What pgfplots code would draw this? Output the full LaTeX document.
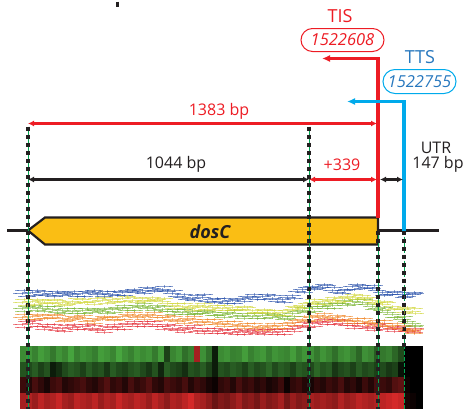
\documentclass[border=0pt]{standalone}
\usepackage{pgfplots}
\pgfplotsset{compat=1.18}
\usetikzlibrary{arrows.meta}
\usepackage{fontspec}
\setmainfont{Open Sans}
\definecolor{tisred}{RGB}{237,28,36}
\definecolor{ttsblue}{RGB}{0,170,235}
\definecolor{ttstext}{RGB}{40,120,190}
\definecolor{ink}{RGB}{35,31,32}
\definecolor{gene}{RGB}{250,190,20}
\definecolor{gline}{RGB}{0,166,81}
\definecolor{sB}{RGB}{40,80,170}
\definecolor{sY}{RGB}{210,215,60}
\definecolor{sG}{RGB}{120,180,50}
\definecolor{sO}{RGB}{240,135,40}
\definecolor{sR}{RGB}{228,50,60}
\pgfplotsset{ebar/.style={only marks, mark=|, mark size=1.6, line width=1.0, opacity=0.55,
  error bars/.cd, x dir=both, x fixed=7, error bar style={line width=1.0}, error mark options={mark size=1.8, line width=0.8}, /pgfplots/.cd}}
\begin{document}
\begin{tikzpicture}
\begin{axis}[width=467pt, height=407pt, scale only axis, xmin=0, xmax=467, ymin=0, ymax=407,
  y dir=reverse, axis lines=none, clip=false,
  colormap={rg}{rgb255=(235,45,45) rgb255=(0,0,0) rgb255=(80,185,70)},
  point meta min=-1, point meta max=1]
\path (axis cs:0,0) rectangle (axis cs:467,407);
% heatmap
\addplot[matrix plot*, mesh/cols=67, point meta=explicit] coordinates {
(23,352.75)[0.75] (29,352.75)[0.80] (35,352.75)[0.70] (41,352.75)[0.85] (47,352.75)[0.78] (53,352.75)[0.65] (59,352.75)[0.80] (65,352.75)[0.72] (71,352.75)[0.88] (77,352.75)[0.70]
(83,352.75)[0.80] (89,352.75)[0.75] (95,352.75)[0.68] (101,352.75)[0.85] (107,352.75)[0.80] (113,352.75)[0.72] (119,352.75)[0.90] (125,352.75)[0.78] (131,352.75)[0.70] (137,352.75)[0.82]
(143,352.75)[0.75] (149,352.75)[0.80] (155,352.75)[0.66] (161,352.75)[0.85] (167,352.75)[0.35] (173,352.75)[0.72] (179,352.75)[0.80] (185,352.75)[0.60] (191,352.75)[0.70] (197,352.75)[-0.70]
(203,352.75)[0.78] (209,352.75)[0.60] (215,352.75)[0.15] (221,352.75)[0.75] (227,352.75)[0.80] (233,352.75)[0.70] (239,352.75)[0.72] (245,352.75)[0.85] (251,352.75)[0.70] (257,352.75)[0.78]
(263,352.75)[0.82] (269,352.75)[0.68] (275,352.75)[0.80] (281,352.75)[0.75] (287,352.75)[0.72] (293,352.75)[0.85] (299,352.75)[0.70] (305,352.75)[0.80] (311,352.75)[0.78] (317,352.75)[0.65]
(323,352.75)[0.80] (329,352.75)[0.72] (335,352.75)[0.60] (341,352.75)[0.75] (347,352.75)[0.80] (353,352.75)[0.70] (359,352.75)[0.55] (365,352.75)[0.78] (371,352.75)[0.72] (377,352.75)[0.50]
(383,352.75)[0.65] (389,352.75)[0.70] (395,352.75)[0.55] (401,352.75)[0.40] (407,352.75)[0] (413,352.75)[0] (419,352.75)[0]
(23,368.25)[0.45] (29,368.25)[0.40] (35,368.25)[0.50] (41,368.25)[0.35] (47,368.25)[0.45] (53,368.25)[0.15] (59,368.25)[0.25] (65,368.25)[0.40] (71,368.25)[0.50] (77,368.25)[0.45]
(83,368.25)[0.35] (89,368.25)[0.50] (95,368.25)[0.40] (101,368.25)[0.45] (107,368.25)[0.30] (113,368.25)[0.50] (119,368.25)[0.40] (125,368.25)[0.35] (131,368.25)[0.45] (137,368.25)[0.50]
(143,368.25)[0.40] (149,368.25)[0.30] (155,368.25)[0.45] (161,368.25)[0.20] (167,368.25)[0.50] (173,368.25)[0.40] (179,368.25)[0.35] (185,368.25)[0.25] (191,368.25)[0.45] (197,368.25)[0.40]
(203,368.25)[0.50] (209,368.25)[0.35] (215,368.25)[0.15] (221,368.25)[0.45] (227,368.25)[0.40] (233,368.25)[0.50] (239,368.25)[0.45] (245,368.25)[0.35] (251,368.25)[0.50] (257,368.25)[0.40]
(263,368.25)[0.45] (269,368.25)[0.55] (275,368.25)[0.40] (281,368.25)[0.50] (287,368.25)[0.45] (293,368.25)[0.35] (299,368.25)[0.50] (305,368.25)[0.45] (311,368.25)[0.40] (317,368.25)[0.55]
(323,368.25)[0.45] (329,368.25)[0.50] (335,368.25)[0.30] (341,368.25)[0.40] (347,368.25)[0.45] (353,368.25)[0.35] (359,368.25)[0.50] (365,368.25)[0.40] (371,368.25)[0.45] (377,368.25)[0.35]
(383,368.25)[0.40] (389,368.25)[0.30] (395,368.25)[0.35] (401,368.25)[0.10] (407,368.25)[0] (413,368.25)[0] (419,368.25)[0]
(23,383.75)[-0.25] (29,383.75)[-0.15] (35,383.75)[-0.30] (41,383.75)[-0.20] (47,383.75)[-0.10] (53,383.75)[-0.25] (59,383.75)[-0.30] (65,383.75)[-0.15] (71,383.75)[-0.20] (77,383.75)[-0.25]
(83,383.75)[-0.30] (89,383.75)[-0.20] (95,383.75)[-0.15] (101,383.75)[-0.25] (107,383.75)[-0.35] (113,383.75)[-0.20] (119,383.75)[-0.25] (125,383.75)[-0.15] (131,383.75)[-0.30] (137,383.75)[-0.20]
(143,383.75)[-0.25] (149,383.75)[-0.35] (155,383.75)[-0.20] (161,383.75)[-0.15] (167,383.75)[-0.30] (173,383.75)[-0.25] (179,383.75)[-0.20] (185,383.75)[-0.30] (191,383.75)[-0.15] (197,383.75)[-0.25]
(203,383.75)[-0.20] (209,383.75)[-0.10] (215,383.75)[-0.05] (221,383.75)[-0.20] (227,383.75)[-0.25] (233,383.75)[-0.15] (239,383.75)[-0.30] (245,383.75)[-0.20] (251,383.75)[-0.25] (257,383.75)[-0.15]
(263,383.75)[-0.20] (269,383.75)[-0.10] (275,383.75)[-0.15] (281,383.75)[-0.25] (287,383.75)[-0.05] (293,383.75)[-0.20] (299,383.75)[-0.25] (305,383.75)[-0.15] (311,383.75)[-0.10] (317,383.75)[-0.20]
(323,383.75)[-0.15] (329,383.75)[-0.25] (335,383.75)[-0.20] (341,383.75)[-0.30] (347,383.75)[-0.15] (353,383.75)[-0.20] (359,383.75)[-0.10] (365,383.75)[-0.25] (371,383.75)[-0.15] (377,383.75)[-0.30]
(383,383.75)[-0.25] (389,383.75)[-0.20] (395,383.75)[-0.35] (401,383.75)[-0.40] (407,383.75)[-0.05] (413,383.75)[0] (419,383.75)[0]
(23,399.25)[-0.70] (29,399.25)[-0.75] (35,399.25)[-0.65] (41,399.25)[-0.80] (47,399.25)[-0.70] (53,399.25)[-0.75] (59,399.25)[-0.85] (65,399.25)[-0.70] (71,399.25)[-0.65] (77,399.25)[-0.80]
(83,399.25)[-0.75] (89,399.25)[-0.70] (95,399.25)[-0.80] (101,399.25)[-0.65] (107,399.25)[-0.75] (113,399.25)[-0.70] (119,399.25)[-0.85] (125,399.25)[-0.75] (131,399.25)[-0.70] (137,399.25)[-0.80]
(143,399.25)[-0.75] (149,399.25)[-0.65] (155,399.25)[-0.80] (161,399.25)[-0.70] (167,399.25)[-0.60] (173,399.25)[-0.75] (179,399.25)[-0.70] (185,399.25)[-0.80] (191,399.25)[-0.90] (197,399.25)[-0.75]
(203,399.25)[-0.70] (209,399.25)[-0.60] (215,399.25)[-0.45] (221,399.25)[-0.55] (227,399.25)[-0.50] (233,399.25)[-0.60] (239,399.25)[-0.70] (245,399.25)[-0.55] (251,399.25)[-0.60] (257,399.25)[-0.50]
(263,399.25)[-0.65] (269,399.25)[-0.55] (275,399.25)[-0.60] (281,399.25)[-0.70] (287,399.25)[-0.50] (293,399.25)[-0.65] (299,399.25)[-0.55] (305,399.25)[-0.60] (311,399.25)[-0.70] (317,399.25)[-0.65]
(323,399.25)[-0.70] (329,399.25)[-0.65] (335,399.25)[-0.60] (341,399.25)[-0.75] (347,399.25)[-0.65] (353,399.25)[-0.70] (359,399.25)[-0.80] (365,399.25)[-0.75] (371,399.25)[-0.70] (377,399.25)[-0.75]
(383,399.25)[-0.80] (389,399.25)[-0.85] (395,399.25)[-0.90] (401,399.25)[-0.85] (407,399.25)[-0.10] (413,399.25)[-0.05] (419,399.25)[0]
};
% profile series
\addplot[color=sR, ebar] coordinates {(22,323) (32,322) (42,325) (52,326) (62,327) (72,326) (82,325) (92,327) (102,328) (112,326) (122,325) (132,323) (142,322) (152,323) (162,325) (172,327) (182,328) (192,327) (202,329) (212,330) (222,329) (232,331) (242,330) (252,331) (262,330) (272,331) (282,330) (292,327) (302,324) (312,322) (322,321) (332,320) (342,322) (352,324) (362,325) (372,326) (382,325) (392,327) (402,328) (412,329)};
\addplot[color=sR, ebar] coordinates {(27,320) (37,325) (47,323) (57,329) (67,324) (77,328) (87,323) (97,329) (107,325) (117,328) (127,322) (137,325) (147,320) (157,325) (167,323) (177,329) (187,326) (197,330) (207,327) (217,332) (227,328) (237,333) (247,329) (257,332) (267,328) (277,333) (287,328) (297,325) (307,326) (317,320) (327,323) (337,318) (347,324) (357,322) (367,327) (377,323) (387,328) (397,326) (407,330) (415,327)};
\addplot[color=sR, ebar] coordinates {(24,326) (34,319) (44,328) (54,323) (64,330) (74,323) (84,328) (94,324) (104,331) (114,323) (124,328) (134,320) (144,325) (154,320) (164,328) (174,324) (184,331) (194,324) (204,332) (214,327) (224,332) (234,328) (244,333) (254,328) (264,333) (274,328) (284,333) (294,330) (304,321) (314,325) (324,318) (334,323) (344,319) (354,327) (364,322) (374,329) (384,322) (394,330) (404,325) (414,331)};
\addplot[color=sO, ebar] coordinates {(22,316) (32,315) (42,314) (52,316) (62,317) (72,318) (82,317) (92,319) (102,318) (112,316) (122,315) (132,314) (142,315) (152,314) (162,316) (172,318) (182,319) (192,318) (202,320) (212,321) (222,322) (232,323) (242,324) (252,325) (262,326) (272,325) (282,324) (292,321) (302,318) (312,316) (322,315) (332,316) (342,318) (352,319) (362,320) (372,321) (382,322) (392,324) (402,327) (412,330)};
\addplot[color=sO, ebar] coordinates {(27,318) (37,313) (47,317) (57,314) (67,319) (77,316) (87,320) (97,317) (107,316) (117,318) (127,313) (137,316) (147,313) (157,316) (167,314) (177,320) (187,317) (197,321) (207,318) (217,323) (227,320) (237,325) (247,322) (257,327) (267,324) (277,327) (287,322) (297,319) (307,320) (317,314) (327,317) (337,314) (347,320) (357,317) (367,322) (377,319) (387,325) (397,322) (407,329) (415,328)};
\addplot[color=sO, ebar] coordinates {(24,313) (34,318) (44,317) (54,313) (64,320) (74,315) (84,314) (94,322) (104,315) (114,319) (124,318) (134,311) (144,318) (154,311) (164,319) (174,315) (184,322) (194,315) (204,323) (214,318) (224,325) (234,320) (244,327) (254,322) (264,329) (274,322) (284,327) (294,324) (304,315) (314,319) (324,312) (334,319) (344,315) (354,322) (364,317) (374,324) (384,319) (394,327) (404,324) (414,332)};
\addplot[color=sG, ebar] coordinates {(22,307) (32,306) (42,307) (52,308) (62,309) (72,310) (82,309) (92,311) (102,310) (112,308) (122,307) (132,306) (142,305) (152,306) (162,308) (172,310) (182,311) (192,310) (202,312) (212,311) (222,313) (232,312) (242,314) (252,315) (262,314) (272,316) (282,315) (292,312) (302,309) (312,307) (322,305) (332,304) (342,302) (352,300) (362,301) (372,305) (382,309) (392,313) (402,318) (412,322)};
\addplot[color=sG, ebar] coordinates {(27,305) (37,309) (47,305) (57,311) (67,307) (77,312) (87,307) (97,309) (107,312) (117,306) (127,309) (137,304) (147,307) (157,304) (167,310) (177,308) (187,313) (197,312) (207,310) (217,314) (227,311) (237,315) (247,312) (257,317) (267,312) (277,314) (287,317) (297,310) (307,311) (317,305) (327,307) (337,302) (347,304) (357,298) (367,303) (377,307) (387,311) (397,316) (407,320) (415,324)};
\addplot[color=sG, ebar] coordinates {(24,310) (34,304) (44,310) (54,305) (64,312) (74,307) (84,312) (94,308) (104,307) (114,311) (124,304) (134,309) (144,302) (154,309) (164,305) (174,313) (184,308) (194,313) (204,309) (214,314) (224,316) (234,309) (244,317) (254,312) (264,317) (274,313) (284,318) (294,315) (304,306) (314,310) (324,302) (334,307) (344,299) (354,303) (364,298) (374,308) (384,306) (394,316) (404,315) (414,325)};
\addplot[color=sY, ebar] coordinates {(22,301) (32,300) (42,299) (52,302) (62,301) (72,300) (82,298) (92,300) (102,299) (112,298) (122,297) (132,299) (142,297) (152,296) (162,300) (172,304) (182,305) (192,306) (202,305) (212,306) (222,307) (232,306) (242,308) (252,309) (262,311) (272,312) (282,311) (292,308) (302,304) (312,301) (322,300) (332,299) (342,297) (352,296) (362,294) (372,299) (382,303) (392,305) (402,308) (412,310)};
\addplot[color=sY, ebar] coordinates {(27,304) (37,298) (47,302) (57,299) (67,303) (77,297) (87,301) (97,297) (107,302) (117,300) (127,295) (137,301) (147,299) (157,298) (167,302) (177,302) (187,307) (197,304) (207,308) (217,304) (227,309) (237,308) (247,306) (257,311) (267,309) (277,314) (287,309) (297,306) (307,302) (317,303) (327,298) (337,301) (347,295) (357,298) (367,296) (377,301) (387,301) (397,307) (407,306) (415,312)};
\addplot[color=sY, ebar] coordinates {(24,298) (34,303) (44,301) (54,298) (64,304) (74,302) (84,301) (94,303) (104,296) (114,301) (124,300) (134,296) (144,300) (154,299) (164,297) (174,307) (184,302) (194,309) (204,302) (214,309) (224,304) (234,309) (244,305) (254,312) (264,308) (274,309) (284,314) (294,305) (304,307) (314,298) (324,303) (334,296) (344,300) (354,293) (364,297) (374,302) (384,300) (394,308) (404,311) (414,307)};
\addplot[color=sB, ebar] coordinates {(22,292) (32,291) (42,293) (52,292) (62,294) (72,293) (82,292) (92,291) (102,292) (112,293) (122,291) (132,290) (142,289) (152,287) (162,288) (172,292) (182,296) (192,297) (202,296) (212,298) (222,300) (232,299) (242,297) (252,296) (262,295) (272,297) (282,298) (292,294) (302,288) (312,285) (322,286) (332,289) (342,292) (352,285) (362,284) (372,287) (382,291) (392,293) (402,293) (412,293)};
\addplot[color=sB, ebar] coordinates {(27,295) (37,289) (47,294) (57,290) (67,292) (77,295) (87,290) (97,293) (107,290) (117,294) (127,289) (137,291) (147,286) (157,289) (167,290) (177,295) (187,298) (197,294) (207,300) (217,297) (227,302) (237,298) (247,295) (257,298) (267,293) (277,300) (287,296) (297,290) (307,286) (317,287) (327,284) (337,291) (347,288) (357,283) (367,286) (377,289) (387,293) (397,291) (407,295) (415,292)};
\addplot[color=sB, ebar] coordinates {(24,289) (34,294) (44,290) (54,295) (64,291) (74,290) (84,295) (94,289) (104,295) (114,290) (124,294) (134,288) (144,292) (154,290) (164,285) (174,289) (184,293) (194,299) (204,293) (214,301) (224,297) (234,302) (244,300) (254,293) (264,298) (274,294) (284,301) (294,297) (304,291) (314,288) (324,283) (334,286) (344,289) (354,288) (364,287) (374,284) (384,294) (394,290) (404,296) (414,291)};
% genome line and gene
\addplot[ink, line width=2.2] coordinates {(7,229) (28,229)};
\addplot[ink, line width=2.2] coordinates {(378,229) (439,229)};
\addplot[fill=gene, draw=ink, line width=2.2] coordinates {(28,229) (45,216) (378,216) (378,243) (45,243)} -- cycle;
% dashed guides: thin green under bold black dashes
\addplot[gline, line width=0.8] coordinates {(28,125) (28,407)};
\addplot[gline, line width=0.8] coordinates {(309,125) (309,407)};
\addplot[gline, line width=0.8] coordinates {(378,229) (378,407)};
\addplot[gline, line width=0.8, dash pattern=on 4pt off 2pt] coordinates {(404,229) (404,407)};
\addplot[ink, line width=3.2, dash pattern=on 4.5pt off 3.5pt] coordinates {(28,125) (28,407)};
\addplot[ink, line width=3.2, dash pattern=on 4.5pt off 3.5pt] coordinates {(309,125) (309,407)};
\addplot[ink, line width=3.2, dash pattern=on 4.5pt off 3.5pt] coordinates {(378,229) (378,407)};
\addplot[ink, line width=3.2, dash pattern=on 4.5pt off 3.5pt] coordinates {(404,229) (404,345)};
% TIS / TTS
\addplot[tisred, line width=3.6, -{Latex[length=8pt,width=7pt]}] coordinates {(378,216) (378,57) (322,57)};
\addplot[ttsblue, line width=3.6, -{Latex[length=8pt,width=7pt]}] coordinates {(404,229) (404,100) (347,100)};
% dimension arrows
\addplot[tisred, line width=2.4, {Latex[length=6pt,width=6pt]}-{Latex[length=6pt,width=6pt]}] coordinates {(28,122) (377,122)};
\addplot[ink, line width=2.4, {Latex[length=6pt,width=6pt]}-{Latex[length=6pt,width=6pt]}] coordinates {(28,178) (309,178)};
\addplot[tisred, line width=2.4, {Latex[length=6pt,width=6pt]}-{Latex[length=6pt,width=6pt]}] coordinates {(309,178) (377,178)};
\addplot[ink, line width=2.4, {Latex[length=6pt,width=6pt]}-{Latex[length=6pt,width=6pt]}] coordinates {(380,178) (403,178)};
\addplot[ink, line width=3] coordinates {(117,0) (117,5)};
% labels
\node[text=tisred, font=\fontsize{16}{18}\selectfont] at (axis cs:219,110) {1383 bp};
\node[text=ink, font=\fontsize{16}{18}\selectfont] at (axis cs:176,163) {1044 bp};
\node[text=tisred, font=\fontsize{16}{18}\selectfont] at (axis cs:342,163) {+339};
\node[text=ink, font=\fontsize{16}{18}\selectfont] at (axis cs:436,146) {UTR};
\node[text=ink, font=\fontsize{16}{18}\selectfont] at (axis cs:438,163) {147 bp};
\node[text=ink, font=\fontsize{18}{20}\selectfont\bfseries\itshape] at (axis cs:210,230) {dosC};
\node[text=tisred, font=\fontsize{18}{20}\selectfont] at (axis cs:340,15) {TIS};
\node[text=tisred, draw=tisred, line width=1, rounded corners=11.5pt, minimum width=83pt, minimum height=23pt, inner sep=0pt, font=\fontsize{16.5}{18}\selectfont\itshape] at (axis cs:342.5,38.5) {1522608};
\node[text=ttstext, font=\fontsize{18}{20}\selectfont] at (axis cs:420,56) {TTS};
\node[text=ttstext, draw=ttsblue, line width=1, rounded corners=12pt, minimum width=73pt, minimum height=24pt, inner sep=0pt, font=\fontsize{16.5}{18}\selectfont\itshape] at (axis cs:419.5,80) {1522755};
\end{axis}
\end{tikzpicture}
\end{document}
